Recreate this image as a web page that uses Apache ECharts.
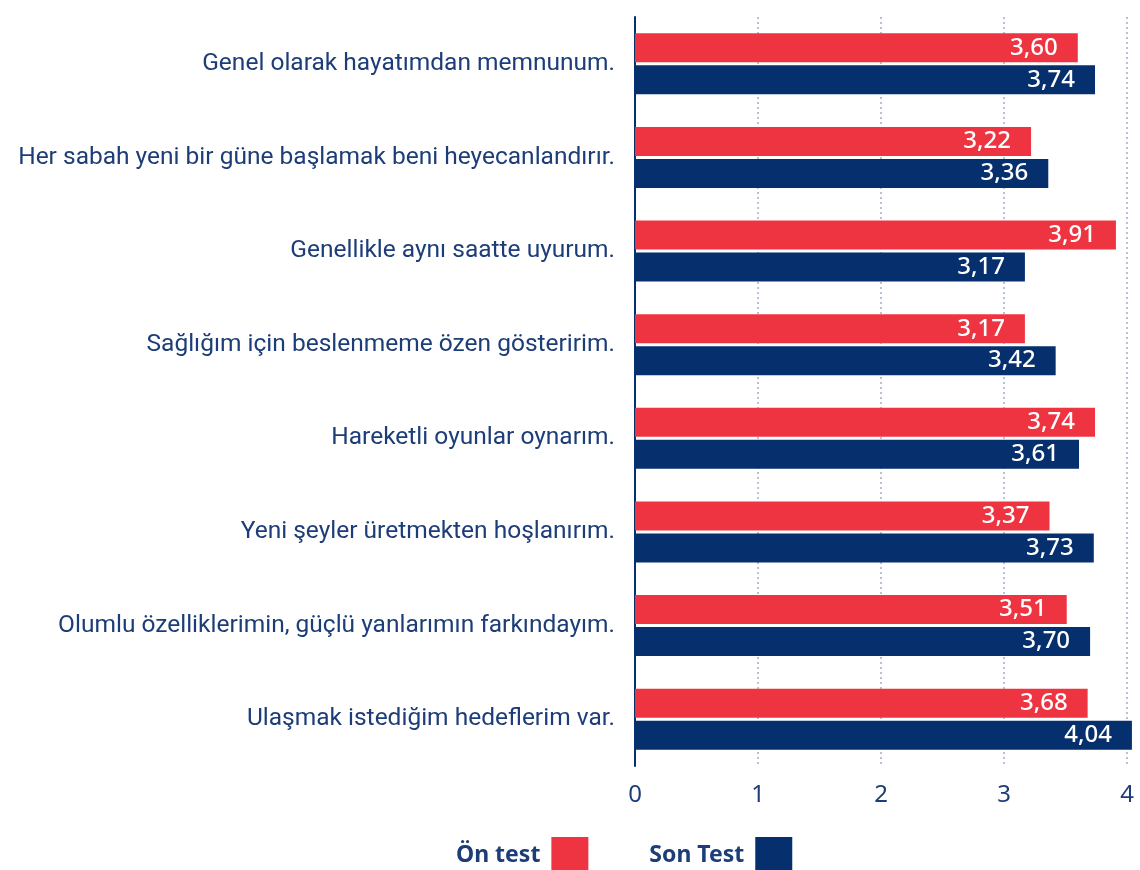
<!DOCTYPE html>
<html><head><meta charset="utf-8">
<script src="https://cdn.jsdelivr.net/npm/echarts@6/dist/echarts.min.js"></script>
<style>html,body{margin:0;padding:0;background:#fff}#c{width:1140px;height:870px}</style>
</head><body><div id="c"></div>
<script>
const categories = [
  "Genel olarak hayatımdan memnunum.",
  "Her sabah yeni bir güne başlamak beni heyecanlandırır.",
  "Genellikle aynı saatte uyurum.",
  "Sağlığım için beslenmeme özen gösteririm.",
  "Hareketli oyunlar oynarım.",
  "Yeni şeyler üretmekten hoşlanırım.",
  "Olumlu özelliklerimin, güçlü yanlarımın farkındayım.",
  "Ulaşmak istediğim hedeflerim var."
];
const onTest = [3.60, 3.22, 3.91, 3.17, 3.74, 3.37, 3.51, 3.68];
const sonTest = [3.74, 3.36, 3.17, 3.42, 3.61, 3.73, 3.70, 4.04];
const seriesNames = ["Ön test", "Son Test"];

const navy = '#062f6e';
const red = '#ef3441';
const textNavy = '#1d3d78';
const fmt = p => p.value.toFixed(2).replace('.', ',');

const chart = echarts.init(document.getElementById('c'));
chart.setOption({
  animation: false,
  grid: { left: 635, right: 13, top: 17, bottom: 104, containLabel: false, outerBoundsMode: 'none' },
  legend: {
    left: 451, top: 832, align: 'right',
    itemWidth: 37, itemHeight: 37, itemGap: 61,
    icon: 'rect',
    textStyle: { color: textNavy, fontSize: 23, fontWeight: 'bold', fontFamily: 'Noto Sans', padding: [0, 6, 0, 0] },
    data: seriesNames
  },
  xAxis: {
    type: 'value', min: 0, max: 4, interval: 1,
    axisLine: { show: false }, axisTick: { show: false },
    axisLabel: { color: textNavy, fontSize: 24, fontFamily: 'Noto Sans', margin: 17 },
    splitLine: { show: true, lineStyle: { color: '#b9c3d6', type: [2, 3], width: 2 } }
  },
  yAxis: {
    type: 'category', inverse: true, data: categories, offset: 2,
    axisLine: { show: true, lineStyle: { color: navy, width: 2 } },
    axisTick: { show: false },
    axisLabel: { color: textNavy, fontSize: 24.5, fontFamily: 'Roboto', margin: 18 }
  },
  series: [
    { name: seriesNames[0], type: 'bar', data: onTest, barWidth: 29, barGap: '10%', clip: false,
      itemStyle: { color: red },
      label: { show: true, position: 'insideRight', distance: 20, color: '#fff', fontSize: 24, fontWeight: 500, fontFamily: 'Noto Sans', formatter: fmt } },
    { name: seriesNames[1], type: 'bar', data: sonTest, barWidth: 29, barGap: '10%', clip: false,
      itemStyle: { color: navy },
      label: { show: true, position: 'insideRight', distance: 20, color: '#fff', fontSize: 24, fontWeight: 500, fontFamily: 'Noto Sans', formatter: fmt } }
  ]
});
</script></body></html>
